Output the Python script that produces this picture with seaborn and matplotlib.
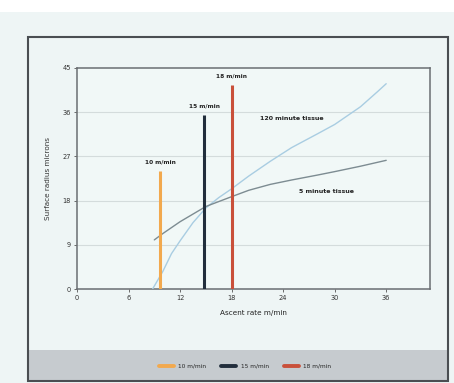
import matplotlib
matplotlib.use("Agg")
import matplotlib.pyplot as plt
import seaborn as sns
import pandas as pd
from matplotlib.patches import Rectangle
from matplotlib.lines import Line2D

# ---- data ----
x_120 = [8.8, 9.3, 10, 11, 12, 13.5, 15, 16.5, 18, 20, 22.5, 25, 28, 30, 33, 35, 36]
y_120 = [0, 1.5, 3.6, 7.2, 9.8, 13.5, 16.5, 18.6, 20.4, 23.0, 26.0, 28.8, 31.6, 33.5, 37.1, 40.2, 41.8]
x_5 = [9, 10, 12, 15, 18, 20, 22.5, 25, 28, 30, 33, 36]
y_5 = [10, 11.3, 13.7, 16.8, 18.8, 20.1, 21.3, 22.2, 23.2, 23.9, 25.0, 26.2]
bar_x = [9.7, 14.8, 18]
bar_top = [24, 35.5, 41.5]
bar_labels = ["10 m/min", "15 m/min", "18 m/min"]
bar_colors = ["#f2a94e", "#222e3c", "#c9503a"]
x_ticks = [0, 6, 12, 18, 24, 30, 36]
y_ticks = [0, 9, 18, 27, 36, 45]
curve_labels = ["120 minute tissue", "5 minute tissue"]

df120 = pd.DataFrame({"x": x_120, "y": y_120})
df5 = pd.DataFrame({"x": x_5, "y": y_5})

sns.set_theme(style="white")
plt.rcParams['font.family'] = ['DejaVu Sans']

W, H = 454, 383
fig = plt.figure(figsize=(W / 100, H / 100), dpi=100)
fig.patch.set_facecolor("#eef5f5")

# white top strip
fig.patches.append(Rectangle((0, 1 - 12 / H), 1, 12 / H, transform=fig.transFigure,
                             facecolor="white", edgecolor="none", zorder=0))
# gray legend strip
fig.patches.append(Rectangle((28 / W, 1 - 381 / H), (448 - 28) / W, (381 - 350) / H,
                             transform=fig.transFigure, facecolor="#c6cbcf",
                             edgecolor="none", zorder=0))
# outer frame
fig.patches.append(Rectangle((28 / W, 1 - 381 / H), (448 - 28) / W, (381 - 37) / H,
                             transform=fig.transFigure, facecolor="none",
                             edgecolor="#4a4e52", linewidth=1.5, zorder=1))

ax = fig.add_axes([77 / W, 1 - 289 / H, (430 - 77) / W, (289 - 68) / H])
ax.set_facecolor("#f1f8f7")

sns.lineplot(data=df120, x="x", y="y", ax=ax, color="#a9cde2", linewidth=1.0, zorder=3)
sns.lineplot(data=df5, x="x", y="y", ax=ax, color="#7d8c92", linewidth=1.0, zorder=3)

ax.vlines(bar_x, 0, bar_top, colors=bar_colors, linewidth=2.2, zorder=4)

for bx, bt, lab in zip(bar_x, bar_top, bar_labels):
    ax.text(bx, bt + 1.3, lab, ha="center", va="bottom", fontsize=4.2,
            color="#222222", fontweight="bold", zorder=5)

ax.text(25.0, 34.8, curve_labels[0], ha="center", va="center", fontsize=4.5,
        color="#222222", fontweight="bold")
ax.text(29.0, 19.8, curve_labels[1], ha="center", va="center", fontsize=4.5,
        color="#222222", fontweight="bold")

ax.set_xlim(0, 41.1)
ax.set_ylim(0, 45)
ax.set_xticks(x_ticks)
ax.set_yticks(y_ticks)
ax.set_xticklabels([str(t) for t in x_ticks], fontsize=4.8, color="#333333")
ax.set_yticklabels([str(t) for t in y_ticks], fontsize=4.8, color="#333333")
ax.tick_params(axis="both", direction="out", length=2.5, width=0.6, color="#555555", pad=2,
               bottom=True, left=True)
for t in y_ticks[1:-1]:
    ax.axhline(t, color="#d4dcdc", linewidth=0.8, zorder=1)
for s in ax.spines.values():
    s.set_color("#6a6e72")
    s.set_linewidth(1.1)
ax.set_xlabel("Ascent rate m/min", fontsize=5.2, color="#222222", labelpad=6)
ax.set_ylabel("Surface radius microns", fontsize=5.2, color="#333333", labelpad=8)

handles = [Line2D([0], [0], color=c, linewidth=2.8) for c in bar_colors]
fig.legend(handles, bar_labels, loc="center", bbox_to_anchor=(245 / W, 1 - 366 / H),
           ncol=3, frameon=False, fontsize=4.2, handlelength=2.6, columnspacing=2.5,
           handletextpad=0.8)

fig.savefig("out.png", dpi=100, facecolor=fig.get_facecolor())
